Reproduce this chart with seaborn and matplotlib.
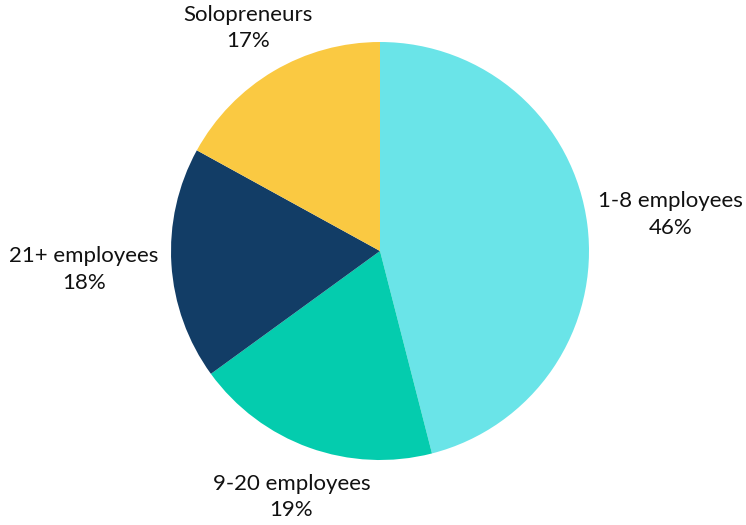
import numpy as np
import seaborn as sns
import matplotlib.pyplot as plt

# Data
categories = ['1-8 employees', '9-20 employees', '21+ employees', 'Solopreneurs']
shares = [46, 19, 18, 17]
colors = ['#6AE4E8', '#04CCAE', '#123D66', '#FAC942']
label_dist = [1.40, 1.25, 1.42, 1.24]

sns.set_theme(style='white')
plt.rcParams['font.family'] = ['Lato', 'DejaVu Sans']

fig = plt.figure(figsize=(7.46, 5.25), dpi=100)
# pie centre at ~(380, 251) px, radius ~209 px
cx, cy, r = 380 / 746, (525 - 251) / 525, 209
ax = fig.add_axes([cx - r / 746, cy - r / 525, 2 * r / 746, 2 * r / 525])

wedges, _ = ax.pie(shares, colors=colors, startangle=90, counterclock=False,
                   radius=1, wedgeprops=dict(linewidth=0))

for w, cat, val, d in zip(wedges, categories, shares, label_dist):
    ang = np.deg2rad((w.theta1 + w.theta2) / 2)
    ax.text(d * np.cos(ang), d * np.sin(ang), f'{cat}\n{val}%',
            ha='center', va='center', fontsize=16, color='#111111',
            linespacing=1.4)

ax.set_xlim(-1, 1)
ax.set_ylim(-1, 1)
ax.set_aspect('equal')
ax.axis('off')

fig.savefig('out.png', dpi=100)
